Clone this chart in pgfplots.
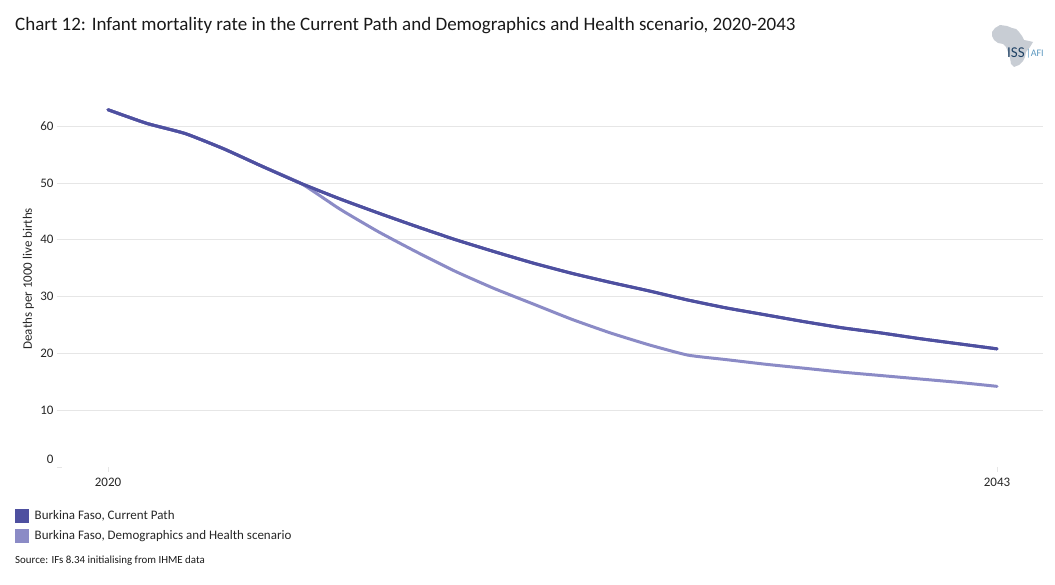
\documentclass[border=0pt]{standalone}
\usepackage{pgfplots}
\pgfplotsset{compat=1.18}
\usepackage{pgfplotstable}
\usepackage{fontspec}
\setmainfont{Carlito}
\definecolor{currentpath}{RGB}{78,80,160}
\definecolor{demohealth}{RGB}{139,139,198}
\definecolor{gridgrey}{RGB}{230,230,230}
\definecolor{africa}{RGB}{200,205,212}
\definecolor{issblue}{RGB}{30,65,100}
\definecolor{afiblue}{RGB}{90,150,190}

\pgfplotstableread{
year cp dh
2020 62.9 62.9
2021 60.5 60.5
2022 58.7 58.7
2023 56.0 56.0
2024 52.9 52.9
2025 49.9 49.9
2026 47.2 45.4
2027 44.7 41.4
2028 42.3 37.8
2029 40.0 34.4
2030 37.9 31.4
2031 35.9 28.7
2032 34.1 26.0
2033 32.5 23.6
2034 31.0 21.5
2035 29.4 19.7
2036 28.0 18.9
2037 26.8 18.1
2038 25.6 17.4
2039 24.5 16.7
2040 23.6 16.1
2041 22.6 15.5
2042 21.7 14.9
2043 20.8 14.2
}\mortality

\begin{document}
\begin{tikzpicture}[x=1pt,y=1pt]
\path (0,0) rectangle (1055,584);
\begin{axis}[
  at={(57pt,117pt)},
  anchor=south west,
  scale only axis,
  width=986pt,
  height=369.2pt,
  xmin=2018.68, xmax=2044.19,
  ymin=0, ymax=65,
  axis line style={draw=none},
  ytick={10,20,30,40,50,60},
  ymajorgrids,
  grid style={gridgrey,line width=0.8pt},
  xtick={2020,2043},
  xticklabel style={/pgf/number format/1000 sep={},yshift=-3pt},
  tick style={gridgrey,line width=0.8pt},
  major tick length=5pt,
  tick pos=left,
  xtick align=outside,
  ytick align=inside,
  tick label style={font=\fontsize{13}{15}\selectfont,text=black!85},
  /pgf/number format/assume math mode=true,
  extra y ticks={0},
  extra y tick style={grid=none,yticklabel style={yshift=8pt}},
  ylabel={Deaths per 1000 live births},
  ylabel style={font=\fontsize{13}{15}\selectfont,text=black!85,at={(axis description cs:-0.029,0.51)},anchor=center},
  legend style={
    at={(-42pt,-42pt)},anchor=north west,draw=none,fill=none,
    font=\fontsize{13}{15}\selectfont,text=black!85,
    row sep=6pt,inner sep=0pt,
    nodes={inner sep=1pt}},
  legend cell align=left,
  legend image code/.code={\fill[#1,draw=none] (0pt,-7pt) rectangle (14pt,7pt);\path (17pt,0pt);},
]
\addplot[currentpath,line width=3pt,smooth,tension=0.3,line cap=round] table[x=year,y=cp] {\mortality};
\addlegendentry{Burkina Faso, Current Path}
\addplot[demohealth,line width=3pt,smooth,tension=0.3,line cap=round] table[x=year,y=dh] {\mortality};
\addlegendentry{Burkina Faso, Demographics and Health scenario}
\addplot[currentpath,line width=3pt,smooth,tension=0.3,line cap=round,forget plot] table[x=year,y=cp] {\mortality};
\end{axis}
\node[anchor=base west,inner sep=0pt,font=\fontsize{19}{21}\selectfont,text=black!90] at (15,553) {Chart 12: Infant mortality rate in the Current Path and Demographics and Health scenario, 2020-2043};
\node[anchor=base west,inner sep=0pt,font=\fontsize{10.9}{12}\selectfont,text=black!90] at (15,21) {Source: IFs 8.34 initialising from IHME data};
% logo
\fill[africa] (992,552) -- (995,556) -- (1000,559) -- (1007,558) -- (1012,556) -- (1016,555) -- (1019,552)
  -- (1022,548) -- (1024,544) -- (1029,543) -- (1033,542) -- (1030,537) -- (1026,532) -- (1025,527)
  -- (1023,523) -- (1019,519) -- (1014,517) -- (1011,520) -- (1010,526) -- (1008,532) -- (1006,537)
  -- (1003,540) -- (998,541) -- (994,544) -- (992,548) -- cycle;
\node[anchor=base west,inner sep=0pt,font=\fontsize{15}{16}\selectfont,text=issblue] at (1007,526) {ISS};
\node[anchor=base west,inner sep=0pt,font=\fontsize{10}{11}\selectfont,text=afiblue] at (1026,527) {|AFI};
\end{tikzpicture}
\end{document}
